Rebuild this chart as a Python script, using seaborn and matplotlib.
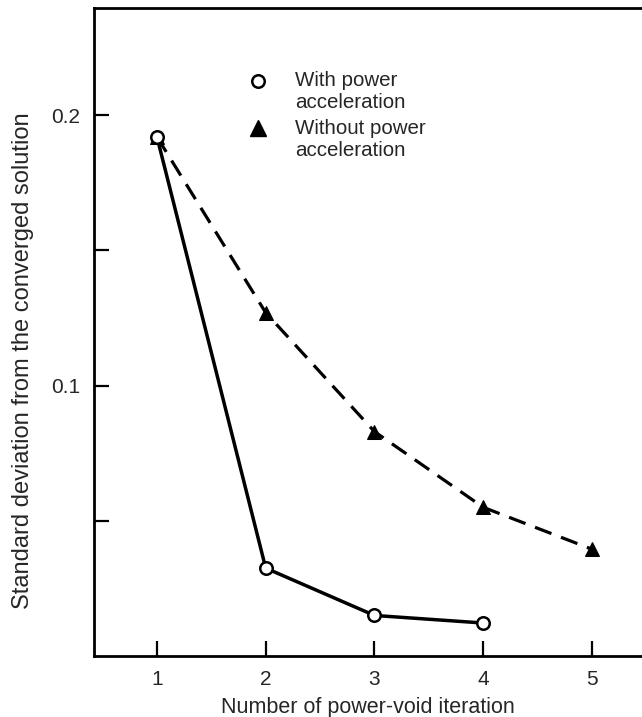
import matplotlib
matplotlib.use("Agg")
import matplotlib.pyplot as plt
import seaborn as sns
import pandas as pd

iterations_with = [1, 2, 3, 4]
std_with = [0.192, 0.0325, 0.0150, 0.0122]
iterations_without = [1, 2, 3, 4, 5]
std_without = [0.192, 0.127, 0.083, 0.055, 0.0395]

x_ticks = [1, 2, 3, 4, 5]
y_major = [0.1, 0.2]
y_minor = [0.05, 0.15]
label_with = "With power\nacceleration"
label_without = "Without power\nacceleration"
xlabel = "Number of power-void iteration"
ylabel = "Standard deviation from the converged solution"

sns.set_theme(style="white")
plt.rcParams["font.family"] = ["Liberation Sans", "DejaVu Sans"]

df_with = pd.DataFrame({"x": iterations_with, "y": std_with})
df_without = pd.DataFrame({"x": iterations_without, "y": std_without})

fig = plt.figure(figsize=(6.42, 7.17), dpi=100)
ax = fig.add_axes([94 / 642, 61 / 717, 1 - 94 / 642, (656 - 8) / 717])

sns.lineplot(data=df_without, x="x", y="y", ax=ax, color="black", lw=2.3,
             linestyle=(0, (5.5, 3.2)), marker="^", markersize=9.5,
             markerfacecolor="black", markeredgecolor="black", zorder=2)
sns.lineplot(data=df_with, x="x", y="y", ax=ax, color="black", lw=2.5,
             marker="o", markersize=9, markerfacecolor="white",
             markeredgecolor="black", markeredgewidth=1.8, zorder=3)

ax.set_xlim(0.421, 5.46)
ax.set_ylim(0.0, 0.2397)
ax.set_xticks(x_ticks)
ax.set_xticklabels([str(v) for v in x_ticks])
ax.set_yticks(y_major)
ax.set_yticklabels([f"{v:g}" for v in y_major])
ax.set_yticks(y_minor, minor=True)

ax.tick_params(axis="both", which="both", direction="in", length=11,
               width=1.6, color="black", labelsize=15, pad=10,
               bottom=True, left=True)
ax.tick_params(axis="x", pad=10)

for side in ["left", "bottom", "top"]:
    ax.spines[side].set_visible(True)
    ax.spines[side].set_color("black")
    ax.spines[side].set_linewidth(2.0)
ax.spines["right"].set_visible(False)

ax.set_xlabel(xlabel, fontsize=15.5, labelpad=6)
ax.set_ylabel(ylabel, fontsize=17, labelpad=12)
ax.yaxis.label.set_y(0.455)

# legend
tr = ax.transAxes
ax.plot([(258 - 94) / 548], [(656 - 81) / 648], marker="o", markersize=9,
        markerfacecolor="white", markeredgecolor="black",
        markeredgewidth=1.8, transform=tr, clip_on=False)
ax.plot([(258 - 94) / 548], [(656 - 128) / 648], marker="^", markersize=11,
        color="black", transform=tr, clip_on=False)
ax.text((295 - 94) / 548, (656 - 71) / 648, label_with, transform=tr,
        fontsize=14.8, va="top", ha="left", linespacing=1.22)
ax.text((295 - 94) / 548, (656 - 119) / 648, label_without, transform=tr,
        fontsize=14.8, va="top", ha="left", linespacing=1.22)

ax.grid(False)
fig.savefig("out.png", dpi=100, facecolor="white")
